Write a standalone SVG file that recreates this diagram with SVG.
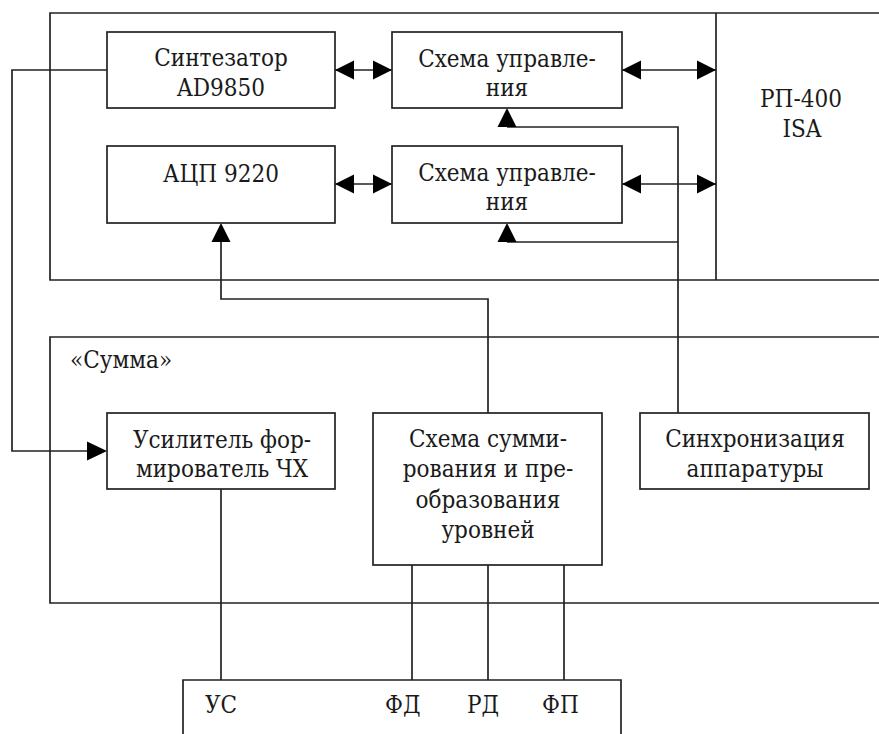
<svg xmlns="http://www.w3.org/2000/svg" width="879" height="734" viewBox="0 0 879 734">
<style>
.ln{fill:none;stroke:#222;stroke-width:1.7}
.bx{fill:#fff;stroke:#222;stroke-width:1.7}
.t{font-family:'DejaVu Serif Condensed','DejaVu Serif',serif;font-stretch:condensed;font-size:24px;fill:#1a1a1a}
.c{text-anchor:middle}
.ah{fill:#000}
</style>
<rect width="879" height="734" fill="#fff"/>
<g id="frame-top">
<path class="ln" d="M879 13 H50 V280 H879"/>
<path class="ln" d="M716 13 V280"/>
<text class="t c" x="801" y="107">РП-400</text>
<text class="t c" x="802" y="137">ISA</text>
</g>
<g id="frame-summa">
<path class="ln" d="M879 337 H50 V603 H879"/>
<text class="t" x="70" y="368">«Сумма»</text>
</g>
<g id="connectors">
<path class="ln" d="M335 70 H392"/>
<path class="ah" d="M335 70 L354 60.5 V79.5 Z"/>
<path class="ah" d="M392 70 L373 60.5 V79.5 Z"/>
<path class="ln" d="M335 184 H392"/>
<path class="ah" d="M335 184 L354 174.5 V193.5 Z"/>
<path class="ah" d="M392 184 L373 174.5 V193.5 Z"/>
<path class="ln" d="M622 70 H716"/>
<path class="ah" d="M622 70 L641 60.5 V79.5 Z"/>
<path class="ah" d="M716 70 L697 60.5 V79.5 Z"/>
<path class="ln" d="M622 184 H716"/>
<path class="ah" d="M622 184 L641 174.5 V193.5 Z"/>
<path class="ah" d="M716 184 L697 174.5 V193.5 Z"/>
<path class="ln" d="M507 127 H678 V413"/>
<path class="ah" d="M507 108 L497.5 127 H516.5 Z"/>
<path class="ln" d="M507 242 H678"/>
<path class="ah" d="M507 223 L497.5 242 H516.5 Z"/>
<path class="ln" d="M221 242 V299 H488 V413"/>
<path class="ah" d="M221 223 L211.5 242 H230.5 Z"/>
<path class="ln" d="M107 70 H12 V451 H88"/>
<path class="ah" d="M107 451 L87 441.5 V460.5 Z"/>
<path class="ln" d="M221 489 V680"/>
<path class="ln" d="M412 565 V680"/>
<path class="ln" d="M488 565 V680"/>
<path class="ln" d="M564 565 V680"/>
</g>
<g id="synth">
<rect class="bx" x="107" y="32" width="228" height="76"/>
<text class="t c" x="221" y="66">Синтезатор</text>
<text class="t c" x="221" y="96">AD9850</text>
</g>
<g id="ctrl1">
<rect class="bx" x="392" y="32" width="230" height="76"/>
<text class="t c" x="507" y="67">Схема управле-</text>
<text class="t c" x="507" y="96">ния</text>
</g>
<g id="adc">
<rect class="bx" x="107" y="146" width="228" height="77"/>
<text class="t c" x="221" y="182">АЦП 9220</text>
</g>
<g id="ctrl2">
<rect class="bx" x="392" y="146" width="230" height="77"/>
<text class="t c" x="507" y="181">Схема управле-</text>
<text class="t c" x="507" y="210">ния</text>
</g>
<g id="amp">
<rect class="bx" x="107" y="413" width="228" height="76"/>
<text class="t c" x="222" y="448">Усилитель фор-</text>
<text class="t c" x="222" y="477">мирователь ЧХ</text>
</g>
<g id="sum">
<rect class="bx" x="373" y="413" width="229" height="152"/>
<text class="t c" x="488" y="447">Схема сумми-</text>
<text class="t c" x="488" y="477">рования и пре-</text>
<text class="t c" x="488" y="508">образования</text>
<text class="t c" x="488" y="538">уровней</text>
</g>
<g id="sync">
<rect class="bx" x="640" y="413" width="229" height="76"/>
<text class="t c" x="755" y="447">Синхронизация</text>
<text class="t c" x="755" y="477">аппаратуры</text>
</g>
<g id="connector-block">
<path class="ln" d="M183 734 V680 H621 V734"/>
<text class="t" x="205" y="713">УС</text>
<text class="t" x="385" y="713">ФД</text>
<text class="t" x="467" y="713">РД</text>
<text class="t" x="542" y="713">ФП</text>
</g>
</svg>
